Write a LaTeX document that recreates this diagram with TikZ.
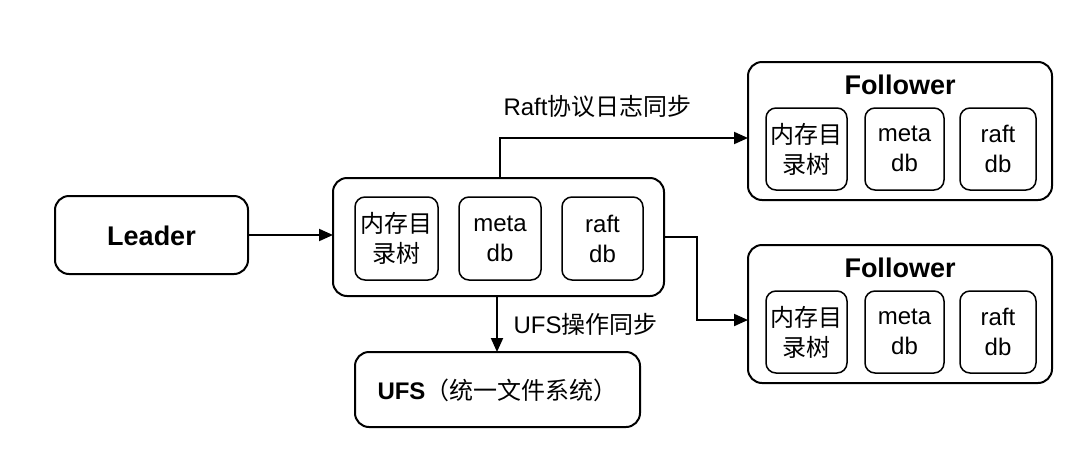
\documentclass[tikz,border=0pt]{standalone}
\usepackage{fontspec}
\setmainfont{Liberation Sans}
\newfontfamily\cjk{Noto Sans CJK SC}
\usetikzlibrary{arrows.meta}
\tikzset{
 outer/.style={draw,line width=2pt,rounded corners=14pt},
 inner/.style={draw,line width=1.5pt,rounded corners=10pt,align=center,font=\fontsize{24}{30}\selectfont},
 conn/.style={line width=2pt,-{Triangle[length=14pt,width=12pt]}},
 lbl/.style={font=\fontsize{24}{28}\selectfont},
 ttl/.style={font=\fontsize{27}{30}\selectfont\bfseries}
}
\begin{document}
\begin{tikzpicture}[x=1pt,y=-1pt]
\useasboundingbox (0,0) rectangle (1077,472);
% Leader
\draw[outer] (55,196) rectangle (248,274);
\node[ttl] (leader) at (151.5,236) {Leader};
\coordinate (leaderR) at (248,235);
% middle
\draw[outer] (333,178) rectangle (664,296);
\coordinate (midL) at (333,235);
\coordinate (midT) at (500,178);
\coordinate (midR) at (664,237);
\coordinate (midB) at (497,296);
\draw[inner] (355,197) rectangle (438,280); \node[inner,draw=none] (m1) at (396.5,238.5) {\cjk 内存目\\\cjk 录树};
\draw[inner] (459,197) rectangle (541,280); \node[inner,draw=none] (m2) at (500,238.5) {meta\\db};
\draw[inner] (562,197) rectangle (643,280); \node[inner,draw=none] (m3) at (602.5,238.5) {raft\\db};
% Followers
\foreach \y/\n in {62/f1,245/f2}{
 \draw[outer] (748,\y) rectangle (1052,\y+138);
 \node[ttl] at (900,\y+23) {Follower};
 \draw[inner] (766,\y+46) rectangle (847,\y+128); \node[inner,draw=none] at (806.5,\y+87) {\cjk 内存目\\\cjk 录树};
 \draw[inner] (865,\y+46) rectangle (944,\y+128); \node[inner,draw=none] at (904.5,\y+87) {meta\\db};
 \draw[inner] (960,\y+46) rectangle (1036,\y+128); \node[inner,draw=none] at (998,\y+87) {raft\\db};
}
\coordinate (f1L) at (748,138);
\coordinate (f2L) at (748,320);
% UFS
\draw[outer] (355,352) rectangle (640,427);
\coordinate (ufsT) at (497,352);
\node[lbl] (ufs) at (497.5,390) {\textbf{UFS}\cjk（统一文件系统）};
% connectors
\draw[conn] (leaderR) -- (midL);
\draw[conn] (midT) |- (f1L);
\draw[conn] (midR) -| (697,320) -- (f2L);
\draw[conn] (midB) -- (ufsT);
\node[lbl,anchor=west] (l1) at (500,106) {Raft\cjk 协议日志同步};
\node[lbl,anchor=west] (l2) at (510,324) {UFS\cjk 操作同步};
\end{tikzpicture}
\end{document}
